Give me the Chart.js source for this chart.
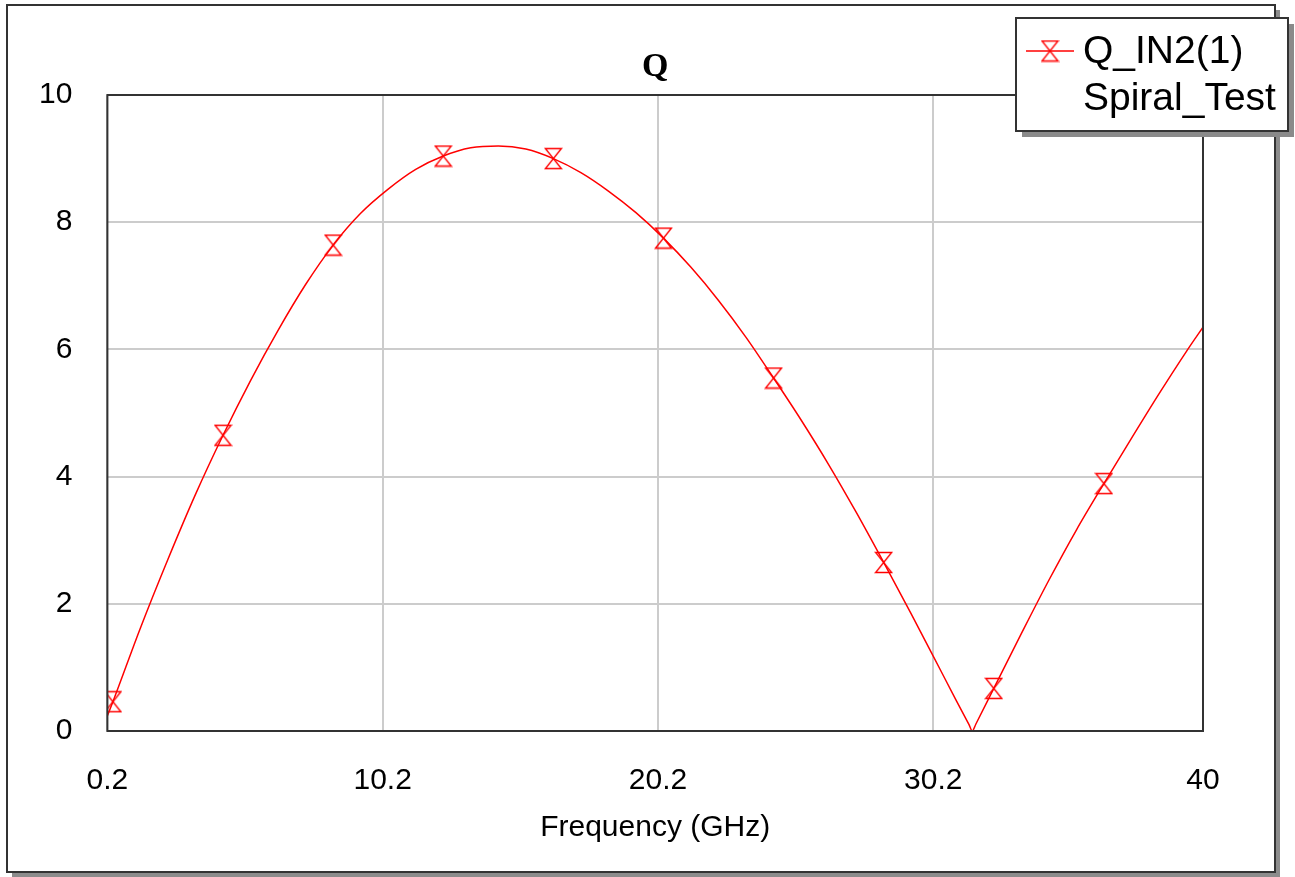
<!DOCTYPE html>
<html>
<head>
<meta charset="utf-8">
<title>Q</title>
<script src="https://cdn.jsdelivr.net/npm/chart.js@4.4.0/dist/chart.umd.min.js"></script>
<style>
  html, body { margin: 0; padding: 0; background: #fff; }
  canvas { display: block; }
</style>
</head>
<body>
<canvas id="chart" width="1295" height="877"></canvas>
<script>
// data
const freqGHz = [0.2, 0.4, 1.4, 2.4, 3.4, 4.4, 5.4, 6.4, 7.4, 8.4, 9.4, 10.4, 11.4, 12.4, 13.4,
  14.4, 15.4, 16.4, 17.4, 18.4, 19.4, 20.4, 21.4, 22.4, 23.4, 24.4, 25.4, 26.4, 27.4, 28.4,
  29.4, 30.4, 31.0, 31.5, 31.62, 31.75, 32.4, 33.4, 34.4, 35.4, 36.4, 37.4, 38.4, 39.4, 40];
const qIn2 = [0.24, 0.46, 1.62, 2.7, 3.72, 4.65, 5.51, 6.3, 7.02, 7.64, 8.14, 8.52, 8.83, 9.04, 9.17,
  9.2, 9.15, 9.0, 8.78, 8.49, 8.15, 7.75, 7.29, 6.77, 6.19, 5.55, 4.89, 4.19, 3.44, 2.65,
  1.84, 1.01, 0.51, 0.1, 0, 0.11, 0.67, 1.53, 2.37, 3.16, 3.89, 4.6, 5.3, 5.97, 6.35];
const markerFreqs = [0.4, 4.4, 8.4, 12.4, 16.4, 20.4, 24.4, 28.4, 32.4, 36.4];
const xTicks = [0.2, 10.2, 20.2, 30.2, 40];
const yTicks = [0, 2, 4, 6, 8, 10];
const legendLines = ['Q_IN2(1)', 'Spiral_Test'];
const chartTitle = 'Q';
const xTitle = 'Frequency (GHz)';

const SANS = '"Liberation Sans", Arial, sans-serif';
const RED = '#ff0000';

// hourglass marker
function makeMarker() {
  const m = document.createElement('canvas');
  m.width = 19; m.height = 23;
  const c = m.getContext('2d');
  c.strokeStyle = RED;
  c.lineWidth = 1.4;
  c.beginPath();
  c.moveTo(1.5, 1.5);
  c.lineTo(17.5, 1.5);
  c.lineTo(1.5, 21.5);
  c.lineTo(17.5, 21.5);
  c.closePath();
  c.stroke();
  return m;
}
const marker = makeMarker();

const awrFrame = {
  id: 'awrFrame',
  beforeDraw(chart) {
    const c = chart.ctx;
    c.save();
    c.fillStyle = '#fff';
    c.fillRect(0, 0, chart.width, chart.height);
    c.fillStyle = '#8c8c8c';
    c.fillRect(12, 10, 1268, 867);
    c.fillStyle = '#fff';
    c.fillRect(7, 5, 1268, 867);
    c.strokeStyle = '#333';
    c.lineWidth = 2;
    c.strokeRect(7, 5, 1268, 867);
    c.restore();
  },
  afterDraw(chart) {
    const c = chart.ctx;
    const a = chart.chartArea;
    c.save();
    // plot border
    c.strokeStyle = '#333';
    c.lineWidth = 2;
    c.strokeRect(a.left, a.top, a.right - a.left, a.bottom - a.top);

    // title
    c.fillStyle = '#000';
    c.font = 'bold 34px "Liberation Serif", "Times New Roman", serif';
    c.textAlign = 'center';
    c.textBaseline = 'alphabetic';
    c.fillText(chartTitle, (a.left + a.right) / 2, 76);

    // legend box
    const lx = 1016, ly = 18, lw = 272, lh = 113;
    c.fillStyle = '#8a8a8a';
    c.fillRect(lx + 6, ly + 6, lw, lh);
    c.fillStyle = '#fff';
    c.fillRect(lx, ly, lw, lh);
    c.strokeStyle = '#333';
    c.lineWidth = 2;
    c.strokeRect(lx, ly, lw, lh);

    c.strokeStyle = RED;
    c.lineWidth = 1.5;
    c.beginPath();
    c.moveTo(1026, 51);
    c.lineTo(1074, 51);
    c.stroke();
    c.drawImage(marker, 1050 - marker.width / 2, 51 - marker.height / 2);

    c.fillStyle = '#000';
    c.font = '39px ' + SANS;
    c.textAlign = 'left';
    c.fillText(legendLines[0], 1083, 63);
    c.fillText(legendLines[1], 1083, 110);
    c.restore();
  }
};

const ctx = document.getElementById('chart').getContext('2d');
new Chart(ctx, {
  type: 'line',
  data: {
    datasets: [{
      label: legendLines[0],
      data: freqGHz.map((f, i) => ({ x: f, y: qIn2[i] })),
      borderColor: RED,
      backgroundColor: RED,
      borderWidth: 1.5,
      fill: false,
      cubicInterpolationMode: 'monotone',
      pointStyle: marker,
      pointRadius: (c) => markerFreqs.includes(freqGHz[c.dataIndex]) ? 8 : 0,
      pointHoverRadius: 0
    }]
  },
  options: {
    responsive: false,
    animation: false,
    events: [],
    layout: { padding: { left: 0, top: 95, right: 92, bottom: 0 } },
    plugins: {
      legend: { display: false },
      title: { display: false },
      tooltip: { enabled: false }
    },
    scales: {
      x: {
        type: 'linear',
        min: 0.2,
        max: 40,
        afterBuildTicks: (s) => { s.ticks = xTicks.map(v => ({ value: v })); },
        afterFit: (s) => { s.height = 146; },
        ticks: {
          autoSkip: false,
          maxRotation: 0,
          padding: 32,
          color: '#000',
          font: { family: SANS, size: 30 },
          callback: (v) => String(v)
        },
        grid: { color: '#cccccc', lineWidth: 2, drawTicks: false },
        border: { display: false },
        title: {
          display: true,
          text: xTitle,
          color: '#000',
          font: { family: SANS, size: 30 },
          padding: { top: 0, bottom: 31 }
        }
      },
      y: {
        min: 0,
        max: 10,
        afterBuildTicks: (s) => { s.ticks = yTicks.map(v => ({ value: v })); },
        afterFit: (s) => { s.width = 107.4; },
        ticks: {
          padding: 35,
          color: '#000',
          font: { family: SANS, size: 30 }
        },
        grid: { color: '#cccccc', lineWidth: 2, drawTicks: false },
        border: { display: false }
      }
    }
  },
  plugins: [awrFrame]
});
</script>
</body>
</html>
